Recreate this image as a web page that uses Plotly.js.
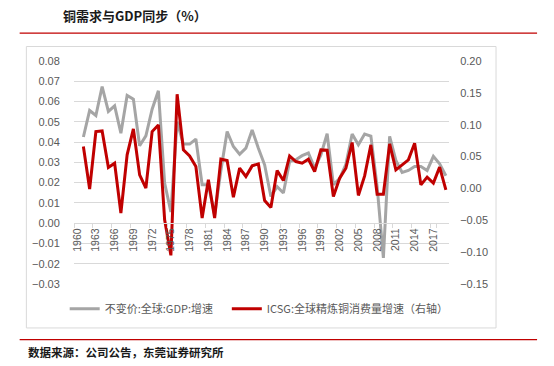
<!DOCTYPE html>
<html>
<head>
<meta charset="utf-8">
<script src="https://cdn.plot.ly/plotly-3.0.1.min.js"></script>
<style>
html,body{margin:0;padding:0;background:#fff;}
#chart{width:554px;height:366px;}
</style>
</head>
<body>
<div id="chart"></div>
<script>
// ---- data ----
const years = ['1960','1961','1962','1963','1964','1965','1966','1967','1968','1969',
  '1970','1971','1972','1973','1974','1975','1976','1977','1978','1979',
  '1980','1981','1982','1983','1984','1985','1986','1987','1988','1989',
  '1990','1991','1992','1993','1994','1995','1996','1997','1998','1999',
  '2000','2001','2002','2003','2004','2005','2006','2007','2008','2009',
  '2010','2011','2012','2013','2014','2015','2016','2017','2018','2019'];

const tickYears = ['1960','1963','1966','1969','1972','1975','1978','1981','1984','1987',
  '1990','1993','1996','1999','2002','2005','2008','2011','2014','2017'];

const gdpGrowth = [null,0.0425,0.0556,0.0531,0.0674,0.0551,0.0579,0.0444,0.0630,0.0612,
  0.0382,0.0431,0.0562,0.0653,0.0198,0.0055,0.0500,0.0390,0.0390,0.0415,
  0.0190,0.0190,0.0040,0.0260,0.0452,0.0378,0.0340,0.0370,0.0460,0.0370,
  0.0288,0.0132,0.0180,0.0149,0.0305,0.0313,0.0333,0.0346,0.0272,0.0337,
  0.0441,0.0190,0.0220,0.0290,0.0440,0.0387,0.0440,0.0430,0.0180,-0.0171,
  0.0428,0.0310,0.0250,0.0260,0.0280,0.0280,0.0260,0.0330,0.0293,0.0234];

const copperGrowth = [null,0.0657,-0.0010,0.0892,0.0903,0.0328,0.0396,-0.0387,0.0527,0.0934,
  0.0213,0.0005,0.0892,0.0997,-0.0492,-0.1050,0.1478,0.0605,0.0511,0.0343,
  -0.0465,0.0135,-0.0465,0.0459,0.0437,-0.0137,0.0318,0.0187,0.0354,0.0385,
  -0.0190,-0.0300,0.0280,0.0124,0.0510,0.0422,0.0396,0.0459,0.0265,0.0605,
  0.0600,-0.0127,0.0160,0.0318,0.0720,-0.0110,0.0197,0.0683,-0.0090,-0.0090,
  0.0699,0.0291,0.0370,0.0448,0.0710,0.0056,0.0177,0.0083,0.0334,-0.0022];

const leftTicks = [-0.03,-0.02,-0.01,0.00,0.01,0.02,0.03,0.04,0.05,0.06,0.07,0.08];
const rightTicks = [-0.15,-0.10,-0.05,0.00,0.05,0.10,0.15,0.20];

const seriesNames = ['不变价:全球:GDP:增速', 'ICSG:全球精炼铜消费量增速（右轴）'];
const titleText = '铜需求与GDP同步（%）';
const sourceText = '数据来源：公司公告，东莞证券研究所';

// ---- layout geometry (pixels) ----
const W = 554, H = 366;
const L = 74.3, R = 449, T = 61, B = 284.3;
const px = x => (x - L) / (R - L);
const py = y => (B - y) / (B - T);

const tickFont = {family: 'Liberation Sans, Arial, sans-serif', size: 11, color: '#595959'};
const cjk = '"Noto Sans CJK SC", "Noto Sans", sans-serif';
const legendFont = {family: cjk, size: 11, color: '#595959'};

const traces = [
  {x: years, y: gdpGrowth, name: seriesNames[0], type: 'scatter', mode: 'lines',
   line: {color: '#a5a5a5', width: 3}, yaxis: 'y', legend: 'legend'},
  {x: years, y: copperGrowth, name: seriesNames[1], type: 'scatter', mode: 'lines',
   line: {color: '#c00000', width: 3}, yaxis: 'y2', legend: 'legend2'}
];

const yLo = leftTicks[0], yHi = leftTicks[leftTicks.length - 1];

const layout = {
  width: W, height: H,
  margin: {l: L, r: W - R, t: T, b: H - B, autoexpand: false},
  paper_bgcolor: '#ffffff', plot_bgcolor: '#ffffff',
  showlegend: true,
  xaxis: {
    type: 'category', range: [-0.5, years.length - 0.5],
    anchor: 'free', position: (0 - yLo) / (yHi - yLo),
    tickmode: 'array', tickvals: tickYears, ticktext: tickYears,
    tickangle: -90, tickfont: {family: 'Liberation Sans, Arial, sans-serif', size: 10.5, color: '#595959'},
    ticks: 'outside', ticklen: 4, tickcolor: '#d9d9d9', tickson: 'boundaries',
    showline: true, linecolor: '#d9d9d9', linewidth: 1,
    showgrid: false, zeroline: false, fixedrange: true
  },
  yaxis: {
    range: [yLo - 1e-6, yHi + 1e-6],
    tickmode: 'array', tickvals: leftTicks, tickformat: '.2f',
    tickfont: tickFont, ticks: 'outside', ticklen: 11, tickcolor: 'rgba(0,0,0,0)',
    showgrid: true, gridcolor: '#d9d9d9', gridwidth: 1,
    zeroline: false, showline: false, fixedrange: true
  },
  yaxis2: {
    overlaying: 'y', side: 'right',
    range: [rightTicks[0] - 1e-6, rightTicks[rightTicks.length - 1] + 1e-6],
    tickmode: 'array', tickvals: rightTicks, tickformat: '.2f',
    tickfont: tickFont, ticks: 'outside', ticklen: 8, tickcolor: 'rgba(0,0,0,0)',
    showgrid: false, zeroline: false, showline: false, fixedrange: true
  },
  legend: {
    orientation: 'h', x: px(65), xanchor: 'left', y: py(309), yanchor: 'middle',
    font: legendFont, bgcolor: 'rgba(0,0,0,0)', borderwidth: 0, itemwidth: 30
  },
  legend2: {
    orientation: 'h', x: px(227), xanchor: 'left', y: py(309), yanchor: 'middle',
    font: legendFont, bgcolor: 'rgba(0,0,0,0)', borderwidth: 0, itemwidth: 30
  },
  shapes: [
    {type: 'rect', xref: 'paper', yref: 'paper', x0: px(26.7), x1: px(496), y0: py(328.3), y1: py(46.5),
     line: {color: '#d9d9d9', width: 1}, fillcolor: 'rgba(0,0,0,0)', layer: 'below'},
    {type: 'line', xref: 'paper', yref: 'paper', x0: px(20), x1: px(537), y0: py(33), y1: py(33),
     line: {color: '#c00000', width: 1.2}},
    {type: 'line', xref: 'paper', yref: 'paper', x0: px(20), x1: px(537), y0: py(340), y1: py(340),
     line: {color: '#c00000', width: 1.2}}
  ],
  annotations: [
    {text: '<b>' + titleText + '</b>', xref: 'paper', yref: 'paper', x: px(61), y: py(15),
     xanchor: 'left', yanchor: 'middle', showarrow: false,
     font: {family: cjk, size: 13, color: '#1a1a1a'}},
    {text: '<b>' + sourceText + '</b>', xref: 'paper', yref: 'paper', x: px(26), y: py(352),
     xanchor: 'left', yanchor: 'middle', showarrow: false,
     font: {family: cjk, size: 11.5, color: '#1a1a1a'}}
  ]
};

Plotly.newPlot('chart', traces, layout, {staticPlot: true, displayModeBar: false});
</script>
</body>
</html>
